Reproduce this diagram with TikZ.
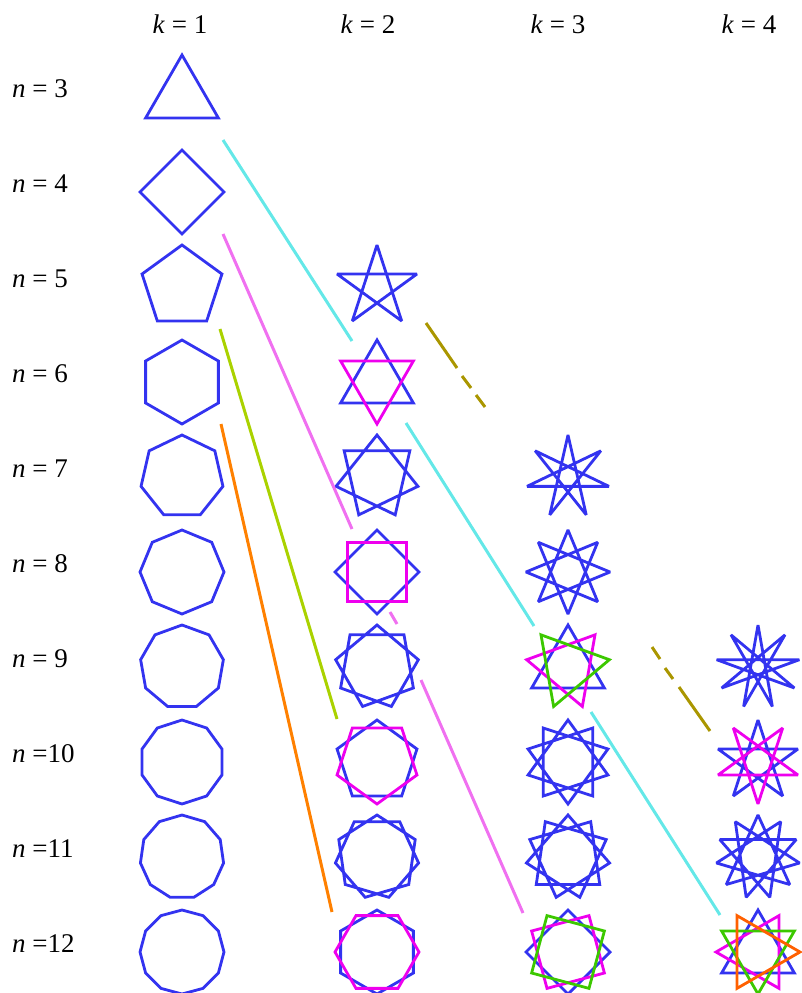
\documentclass[tikz,border=0pt]{standalone}
\usepackage{fontspec}
\setmainfont{Liberation Serif}
\definecolor{pblue}{RGB}{51,51,240}
\definecolor{pmag}{RGB}{238,0,238}
\definecolor{pgreen}{RGB}{60,200,0}
\definecolor{porange}{RGB}{255,96,0}
\definecolor{lcyan}{RGB}{100,232,232}
\definecolor{lpink}{RGB}{240,112,240}
\definecolor{lyg}{RGB}{170,210,0}
\definecolor{lorange}{RGB}{255,128,0}
\definecolor{lolive}{RGB}{170,150,0}
\newcommand\starpg[6]{%
  \pgfmathtruncatemacro\spmcount{#3/gcd(#3,#4)-1}%
  \pgfmathsetmacro\spmstart{360*#5/#3-90}%
  \draw[poly,#6] ([shift={(#1,#2)}]\spmstart:42)
    \foreach \i [evaluate=\i as \spmang using {360*(#5+\i*#4)/#3-90}] in {1,...,\spmcount}{ -- ([shift={(#1,#2)}]\spmang:42)} -- cycle;}
\begin{document}
\begin{tikzpicture}[x=1pt,y=-1pt,
  poly/.style={line width=2.8pt, line join=miter, miter limit=2.2},
  conn/.style={line width=3pt},
  lab/.style={font=\fontsize{27}{30}\selectfont, inner sep=0pt}]
\useasboundingbox (0,0) rectangle (801,993);
% column labels
\node[lab,anchor=base] (k1) at (180,33) {\textit{k} = 1};
\node[lab,anchor=base] (k2) at (368,33) {\textit{k} = 2};
\node[lab,anchor=base] (k3) at (558,33) {\textit{k} = 3};
\node[lab,anchor=base] (k4) at (749,33) {\textit{k} = 4};
% row labels
\foreach \n in {3,...,9}{
  \pgfmathsetmacro\ry{97+(\n-3)*95}
  \node[lab,anchor=base west] (n\n) at (12,\ry) {\textit{n} = \n};
}
\foreach \n in {10,11,12}{
  \pgfmathsetmacro\ry{97+(\n-3)*95}
  \node[lab,anchor=base west] (n\n) at (12,\ry) {\textit{n} =\n};
}
% polygons
\foreach \n in {3,...,12}{
  \foreach \k in {1,...,4}{
    \pgfmathtruncatemacro\okflag{2*\k<\n ? 1 : 0}
    \ifnum\okflag=1
      \pgfmathtruncatemacro\ncomp{gcd(\n,\k)-1}
      \pgfmathsetmacro\cx{{182,377,568,758}[\k-1]}
      \pgfmathsetmacro\cy{97+(\n-3)*95}
      \foreach \c in {0,...,\ncomp}{
        \pgfmathparse{{"pblue","pmag","pgreen","porange"}[\c]}
        \edef\col{\pgfmathresult}
        \starpg{\cx}{\cy}{\n}{\k}{\c}{\col}
      }
    \fi
  }
}
% connector end points
\coordinate (c1a) at (223,140); \coordinate (c1b) at (352,341);
\coordinate (c2a) at (406,423); \coordinate (c2b) at (534,626);
\coordinate (c3a) at (591,712); \coordinate (c3b) at (720,915);
\coordinate (p1a) at (223,234); \coordinate (p1b) at (352,529);
\coordinate (p2a) at (390,612); \coordinate (p2b) at (397,624);
\coordinate (p3a) at (421,680); \coordinate (p3b) at (523,913);
\coordinate (ya) at (220,329); \coordinate (yb) at (337,719);
\coordinate (oa) at (221,424); \coordinate (ob) at (332,912);
\coordinate (d1a) at (426,323); \coordinate (d1b) at (457,368);
\coordinate (d2a) at (462,376); \coordinate (d2b) at (471,388);
\coordinate (d3a) at (476,395); \coordinate (d3b) at (485,407);
\coordinate (d4a) at (652,647); \coordinate (d4b) at (660,659);
\coordinate (d5a) at (665,668); \coordinate (d5b) at (673,679);
\coordinate (d6a) at (679,687); \coordinate (d6b) at (710,731);
\draw[conn,lcyan] (c1a) -- (c1b) (c2a) -- (c2b) (c3a) -- (c3b);
\draw[conn,lpink] (p1a) -- (p1b) (p2a) -- (p2b) (p3a) -- (p3b);
\draw[conn,lyg] (ya) -- (yb);
\draw[conn,lorange] (oa) -- (ob);
\draw[conn,lolive] (d1a) -- (d1b) (d2a) -- (d2b) (d3a) -- (d3b)
  (d4a) -- (d4b) (d5a) -- (d5b) (d6a) -- (d6b);
\end{tikzpicture}
\end{document}
